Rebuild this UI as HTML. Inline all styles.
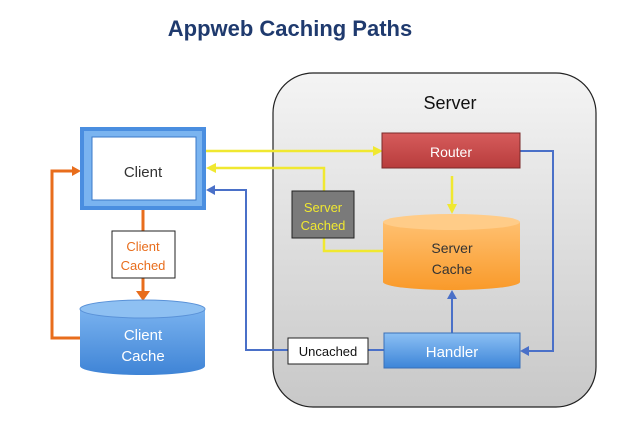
<!DOCTYPE html>
<html><head><style>body{margin:0;background:#fff}</style></head><body>
<svg width="624" height="432" viewBox="0 0 624 432" xmlns="http://www.w3.org/2000/svg" font-family="Liberation Sans, sans-serif">
<defs>
<linearGradient id="srv" x1="0" y1="0" x2="0" y2="1"><stop offset="0" stop-color="#f4f4f4"/><stop offset="1" stop-color="#c8c8c8"/></linearGradient>
<linearGradient id="red" x1="0" y1="0" x2="0" y2="1"><stop offset="0" stop-color="#d65c5c"/><stop offset="1" stop-color="#b83c3c"/></linearGradient>
<linearGradient id="blu" x1="0" y1="0" x2="0" y2="1"><stop offset="0" stop-color="#8cc0f4"/><stop offset="1" stop-color="#3d85d8"/></linearGradient>
<linearGradient id="org" x1="0" y1="0" x2="0" y2="1"><stop offset="0" stop-color="#ffc070"/><stop offset="1" stop-color="#f99a2a"/></linearGradient>
<linearGradient id="cb" x1="0" y1="0" x2="0" y2="1"><stop offset="0" stop-color="#79b2ef"/><stop offset="1" stop-color="#3f84d6"/></linearGradient>
</defs>
<text x="290" y="36" text-anchor="middle" font-size="22" font-weight="bold" fill="#1f3a6e">Appweb Caching Paths</text>
<rect x="273" y="73" width="323" height="334" rx="40" fill="url(#srv)" stroke="#222" stroke-width="1.2"/>
<text x="450" y="109" text-anchor="middle" font-size="18" fill="#111">Server</text>
<!-- yellow -->
<g stroke="#f0e830" stroke-width="2.5" fill="none">
<line x1="206" y1="151" x2="376" y2="151"/>
<polyline points="383,251 324,251 324,168 212,168"/>
<line x1="452" y1="176" x2="452" y2="208"/>
</g>
<g fill="#f0e830">
<polygon points="383,151 373,146 373,156"/>
<polygon points="206,168 216,163 216,173"/>
<polygon points="452,214 447,204 457,204"/>
</g>
<!-- blue -->
<g stroke="#4a70c8" stroke-width="2" fill="none">
<polyline points="288,350 246,350 246,190 212,190"/>
<line x1="368" y1="350" x2="384" y2="350"/>
<polyline points="520,151 553,151 553,351 526,351"/>
<line x1="452" y1="333" x2="452" y2="295"/>
</g>
<g fill="#4a70c8">
<polygon points="206,190 215,185 215,195"/>
<polygon points="520,351 529,346 529,356"/>
<polygon points="452,290 447,299 457,299"/>
</g>
<!-- orange -->
<g stroke="#e86d1c" stroke-width="3" fill="none">
<line x1="143" y1="210" x2="143" y2="231"/>
<line x1="143" y1="278" x2="143" y2="293"/>
<polyline points="80,338 52,338 52,171 74,171"/>
</g>
<g fill="#e86d1c">
<polygon points="143,301 136,291 150,291"/>
<polygon points="81,171 72,166 72,176"/>
</g>
<!-- client -->
<rect x="80" y="127" width="126" height="83" fill="#4a8ee0"/>
<rect x="84" y="131" width="118" height="75" fill="#7ab4f0"/>
<rect x="92" y="137" width="104" height="63" fill="#fff" stroke="#3a78c8"/>
<text x="143" y="177" text-anchor="middle" font-size="15" fill="#333">Client</text>
<rect x="112" y="231" width="63" height="47" fill="#fff" stroke="#222"/>
<text x="143" y="251" text-anchor="middle" font-size="13" fill="#e86d1c">Client</text>
<text x="143" y="270" text-anchor="middle" font-size="13" fill="#e86d1c">Cached</text>
<!-- client cache -->
<path d="M80,309 L80,366 A62.5,9 0 0 0 205,366 L205,309 Z" fill="url(#cb)"/>
<ellipse cx="142.5" cy="309" rx="62.5" ry="9" fill="#8ec0f2" stroke="#5a92d8"/>
<text x="143" y="340" text-anchor="middle" font-size="15" fill="#fff">Client</text>
<text x="143" y="361" text-anchor="middle" font-size="15" fill="#fff">Cache</text>
<!-- router -->
<rect x="382" y="133" width="138" height="35" fill="url(#red)" stroke="#7a2a2a"/>
<text x="451" y="157" text-anchor="middle" font-size="14" fill="#fff">Router</text>
<!-- server cache -->
<path d="M383,222 L383,282 A68.5,8 0 0 0 520,282 L520,222 Z" fill="url(#org)"/>
<ellipse cx="451.5" cy="222" rx="68.5" ry="8" fill="#ffcc88"/>
<text x="452" y="253" text-anchor="middle" font-size="14" fill="#333">Server</text>
<text x="452" y="274" text-anchor="middle" font-size="14" fill="#333">Cache</text>
<!-- server cached -->
<rect x="292" y="191" width="62" height="47" fill="#7a7a7a" stroke="#222"/>
<text x="323" y="212" text-anchor="middle" font-size="13" fill="#f0e830">Server</text>
<text x="323" y="230" text-anchor="middle" font-size="13" fill="#f0e830">Cached</text>
<!-- handler -->
<rect x="384" y="333" width="136" height="35" fill="url(#blu)" stroke="#3a70b8"/>
<text x="452" y="357" text-anchor="middle" font-size="15" fill="#fff">Handler</text>
<rect x="288" y="338" width="80" height="26" fill="#fff" stroke="#222"/>
<text x="328" y="356" text-anchor="middle" font-size="13" fill="#111">Uncached</text>
</svg>
</body></html>
